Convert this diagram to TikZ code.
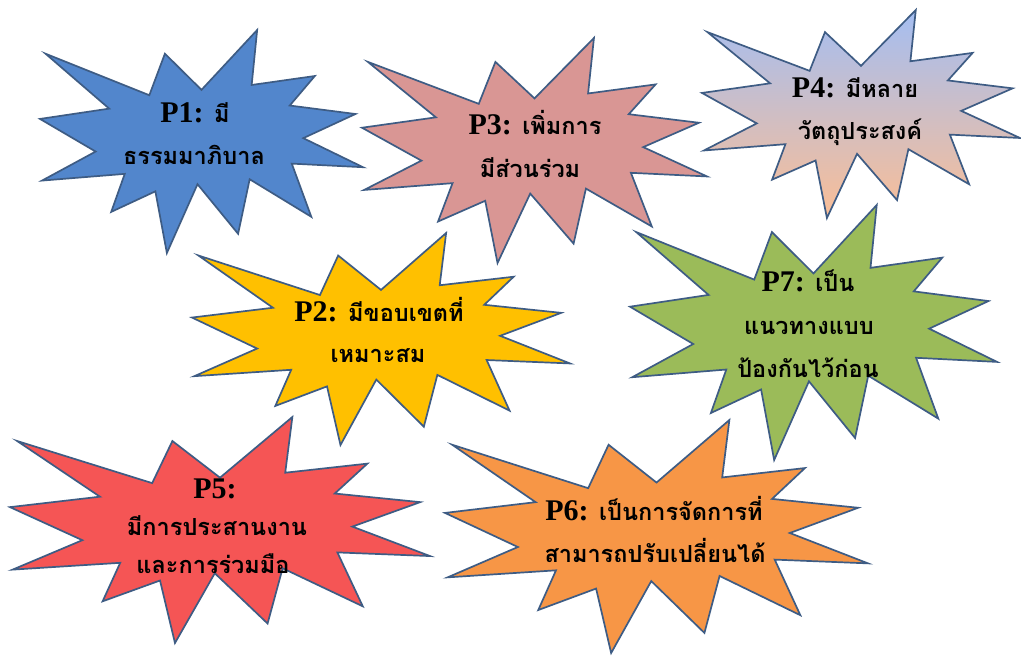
\documentclass[tikz,border=0pt]{standalone}
\usepackage{fontspec}
\setmainfont{Liberation Serif}
\newfontfamily\thaifont[Script=Thai]{Loma}

\definecolor{edgeblue}{RGB}{62,92,132}
\definecolor{fillP1}{RGB}{82,134,204}
\definecolor{fillP2}{RGB}{255,192,0}
\definecolor{fillP3}{RGB}{217,150,148}
\definecolor{fillP4top}{RGB}{164,190,242}
\definecolor{fillP4bot}{RGB}{250,190,150}
\definecolor{fillP5}{RGB}{245,85,85}
\definecolor{fillP6}{RGB}{247,150,70}
\definecolor{fillP7}{RGB}{155,187,89}

% Explosion outline in a unit box: #1 name, #2 left, #3 top, #4 width, #5 height, #6 style
\newcommand\burst[6]{%
  \begin{scope}[shift={(#2,#3)},xscale=#4,yscale=#5]
    \path[burstline,#6]
      (0.5000,0.2685) -- (0.6723,0) -- (0.6553,0.2465) -- (0.8509,0.2063)
      -- (0.7732,0.3387) -- (0.9767,0.3767) -- (0.8151,0.4850) -- (1,0.6153)
      -- (0.7795,0.5992) -- (0.8400,0.8377) -- (0.6491,0.6693) -- (0.6133,0.9138)
      -- (0.4876,0.6914) -- (0.3928,1) -- (0.3572,0.7235) -- (0.2205,0.8156)
      -- (0.2624,0.6452) -- (0.0063,0.6753) -- (0.1723,0.5451) -- (0,0.3988)
      -- (0.2142,0.3526) -- (0.0171,0.1063) -- (0.3385,0.2926) -- (0.3867,0.1063)
      -- cycle;
    \coordinate (#1) at (0.5,0.5);
  \end{scope}}

\tikzset{
  burstline/.style={draw=edgeblue,line width=1.7pt,line join=miter},
  lbl/.style={anchor=base,inner sep=0pt,text=black},
  thai/.style={lbl,font=\thaifont\bfseries\fontsize{23.5}{30}\selectfont},
}
\newcommand\pk[1]{{\fontspec{Liberation Serif}\bfseries\fontsize{30}{30}\selectfont #1}}

\begin{document}
\begin{tikzpicture}[x=1pt,y=-1pt]
\useasboundingbox (0,0) rectangle (1021,660);
\fill[white] (0,0) rectangle (1021,660);

\burst{b1}{40}{30}{323}{223}{fill=fillP1}
\burst{b3}{362}{38}{345}{225}{fill=fillP3}
\burst{b4}{702}{10}{318}{208}{top color=fillP4top,bottom color=fillP4bot}
\burst{b2}{192}{233}{378}{212}{fill=fillP2}
\burst{b7}{630}{205}{367}{255}{fill=fillP7}
\burst{b5}{10}{417}{420}{226}{fill=fillP5}
\burst{b6}{445}{420}{423}{233}{fill=fillP6}

\node[thai] (t1a) at (195,123) {\pk{P1:} มี};
\node[thai] (t1b) at (194,165) {ธรรมมาภิบาล};

\node[thai] (t3a) at (535,135) {\pk{P3:} เพิ่มการ};
\node[thai] (t3b) at (530,178) {มีส่วนร่วม};

\node[thai] (t4a) at (855,98) {\pk{P4:} มีหลาย};
\node[thai] (t4b) at (860,140) {วัตถุประสงค์};

\node[thai] (t2a) at (379,322) {\pk{P2:} มีขอบเขตที่};
\node[thai] (t2b) at (378,363) {เหมาะสม};

\node[thai] (t7a) at (808,292) {\pk{P7:} เป็น};
\node[thai] (t7b) at (809,335) {แนวทางแบบ};
\node[thai] (t7c) at (808,378) {ป้องกันไว้ก่อน};

\node[thai] (t5a) at (215,498) {\pk{P5:}};
\node[thai] (t5b) at (217,535) {มีการประสานงาน};
\node[thai] (t5c) at (213,573) {และการร่วมมือ};

\node[thai] (t6a) at (654,520) {\pk{P6:} เป็นการจัดการที่};
\node[thai] (t6b) at (655,562) {สามารถปรับเปลี่ยนได้};
\end{tikzpicture}
\end{document}
